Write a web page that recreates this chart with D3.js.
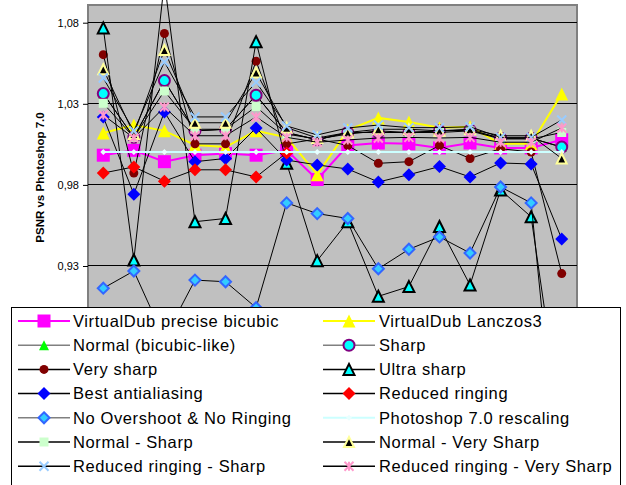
<!DOCTYPE html>
<html>
<head>
<meta charset="utf-8">
<script src="https://cdn.jsdelivr.net/npm/d3@7"></script>
<style>
body { margin: 0; background: #fff; }
svg { display: block; font-family: "Liberation Sans", Arial, sans-serif; }
</style>
</head>
<body>
<script>
/**
 * chart data (16 test images, PSNR relative to Photoshop 7.0)
 */
const categories = ["1", "2", "3", "4", "5", "6", "7", "8", "9", "10", "11", "12", "13", "14", "15", "16"];
const yTicks = [0.93, 0.98, 1.03, 1.08];

const vdBicubic = [0.998, 1.001, 0.994, 0.998, 0.999, 0.998, 1.001, 0.983, 1.004, 1.0055, 1.005, 1.0025, 1.0055, 1.0025, 1.0025, 1.0075];
const vdLanczos = [1.0117, 1.0166, 1.013, 1.0043, 1.003, 1.013, 1.009, 0.986, 1.0135, 1.021, 1.0185, 1.015, 1.0155, 1.005, 1.005, 1.0358];
const normal = [1.036, 1.009, 1.044, 1.013, 1.014, 1.035, 1.012, 1.0075, 1.012, 1.012, 1.012, 1.013, 1.0135, 1.0085, 1.0085, 1.003];
const sharp = [1.036, 1.009, 1.044, 1.013, 1.014, 1.035, 1.012, 1.0075, 1.012, 1.012, 1.012, 1.013, 1.0135, 1.0085, 1.0085, 1.003];
const verySharp = [1.06, 0.987, 1.073, 1.005, 1.005, 1.056, 1.005, 1.008, 1.004, 0.993, 0.994, 1.004, 0.996, 1.002, 1.0, 0.925];
const ultraSharp = [1.0765, 0.9334, 1.105, 0.957, 0.959, 1.068, 0.993, 0.933, 0.957, 0.911, 0.917, 0.954, 0.918, 0.9766, 0.96, 0.83];
const bestAntialiasing = [1.0216, 0.974, 1.0247, 0.994, 0.996, 1.0148, 0.995, 0.992, 0.9895, 0.9815, 0.986, 0.991, 0.9846, 0.9932, 0.9926, 0.9464];
const reducedRinging = [0.987, 0.9908, 0.982, 0.989, 0.989, 0.9846, 0.9994, null, null, null, null, null, null, null, null, null];
const noOvershoot = [0.916, 0.9266, 0.885, 0.921, 0.92, 0.904, 0.9686, 0.962, 0.959, 0.928, 0.94, 0.9476, 0.9377, 0.9784, 0.9686, 0.78];
const photoshop = [1, 1, 1, 1, 1, 1, 1, 1, 1, 1, 1, 1, 1, 1, 1, 1];
const normalSharp = [1.03, 1.009, 1.0376, 1.014, 1.014, 1.028, 1.011, 1.008, 1.011, 1.013, 1.012, 1.012, 1.013, 1.008, 1.008, 1.012];
const normalVerySharp = [1.051, 1.011, 1.0629, 1.018, 1.018, 1.049, 1.015, 1.0086, 1.012, 1.014, 1.014, 1.013, 1.014, 1.01, 1.01, 0.996];
const rrSharp = [1.0456, 1.013, 1.0555, 1.0216, 1.0216, 1.043, 1.016, 1.0105, 1.0148, 1.0166, 1.015, 1.015, 1.0155, 1.009, 1.009, 1.0197];
const rrVerySharp = [1.0228, 1.0086, 1.0277, 1.01, 1.01, 1.0216, 1.009, 1.006, 1.0074, 1.0086, 1.009, 1.0086, 1.009, 1.006, 1.006, 1.0148];

/**
 * series table: data + look (excel style markers)
 * line = colour in the plot, key = colour of the legend sample
 */
let series = [
    { name: "VirtualDub precise bicubic", values: vdBicubic, line: "#ff00ff", key: "#ff00ff", lw: 2, shape: "square", size: 13, fill: "#ff00ff", stroke: "none", sw: 0 },
    { name: "VirtualDub Lanczos3", values: vdLanczos, line: "#ffff00", key: "#ffff00", lw: 2, shape: "triangle", size: 13, fill: "#ffff00", stroke: "none", sw: 0 },
    { name: "Normal (bicubic-like)", values: normal, line: "#000", key: "#808080", lw: 1, shape: "triangle", size: 10, fill: "#00ff00", stroke: "none", sw: 0 },
    { name: "Sharp", values: sharp, line: "#000", key: "#808080", lw: 1, shape: "circle", size: 11, fill: "#00ffff", stroke: "#800080", sw: 2 },
    { name: "Very sharp", values: verySharp, line: "#000", key: "#000", lw: 1, shape: "circle", size: 9, fill: "#800000", stroke: "none", sw: 0 },
    { name: "Ultra sharp", values: ultraSharp, line: "#000", key: "#000", lw: 1, shape: "triangle", size: 11, fill: "#00ffff", stroke: "#000", sw: 2 },
    { name: "Best antialiasing", values: bestAntialiasing, line: "#000", key: "#000", lw: 1, shape: "diamond", size: 13, fill: "#0000ff", stroke: "none", sw: 0 },
    { name: "Reduced ringing", values: reducedRinging, line: "#000", key: "#000", lw: 1, shape: "diamond", size: 13, fill: "#ff0000", stroke: "none", sw: 0 },
    { name: "No Overshoot & No Ringing", values: noOvershoot, line: "#000", key: "#808080", lw: 1, shape: "diamond", size: 11, fill: "#33ccff", stroke: "#3366ff", sw: 2 },
    { name: "Photoshop 7.0 rescaling", values: photoshop, line: "#ccffff", key: "#ccffff", lw: 2, shape: "diamond", size: 6, fill: "#e8ffff", stroke: "none", sw: 0 },
    { name: "Normal - Sharp", values: normalSharp, line: "#000", key: "#000", lw: 1, shape: "square", size: 9, fill: "#ccffcc", stroke: "none", sw: 0 },
    { name: "Normal - Very Sharp", values: normalVerySharp, line: "#000", key: "#000", lw: 1, shape: "triangle", size: 10, fill: "#000", stroke: "#ffff99", sw: 2 },
    { name: "Reduced ringing - Sharp", values: rrSharp, line: "#000", key: "#000", lw: 1, shape: "x", size: 9, fill: "none", stroke: "#99ccff", sw: 2 },
    { name: "Reduced ringing - Very Sharp", values: rrVerySharp, line: "#000", key: "#000", lw: 1, shape: "star", size: 9, fill: "none", stroke: "#ff99cc", sw: 2 }
];

let width = 626, height = 485;
let plot = { left: 88, right: 577, top: 5 };

let x = d3.scalePoint().domain(categories).range([plot.left, plot.right]).padding(0.5);
let y = d3.scaleLinear().domain([0.83, 1.08]).range([427.7, 22.2]);

let svg = d3.select("body").append("svg")
    .attr("width", width)
    .attr("height", height);

// marker outlines
function markerPath(shape, s) {
    let h = s / 2;
    switch (shape) {
        case "square": return `M${-h},${-h}H${h}V${h}H${-h}Z`;
        case "diamond": return `M0,${-h}L${h},0L0,${h}L${-h},0Z`;
        case "triangle": return `M0,${-h}L${h},${h}L${-h},${h}Z`;
        case "circle": return `M${h},0A${h},${h} 0 1,1 ${-h},0A${h},${h} 0 1,1 ${h},0Z`;
        case "x": return `M${-h},${-h}L${h},${h}M${-h},${h}L${h},${-h}`;
        case "star": return `M${-h},${-h}L${h},${h}M${-h},${h}L${h},${-h}M0,${-h}L0,${h}`;
    }
}

/**
 * plot area, gridlines, y axis
 */
svg.append("rect")
    .attr("x", plot.left).attr("y", plot.top)
    .attr("width", plot.right - plot.left)
    .attr("height", y(0.83) - plot.top)
    .attr("fill", "#c0c0c0")
    .attr("stroke", "#808080")
    .attr("stroke-width", 2);

svg.append("g").selectAll("line")
    .data(yTicks)
    .join("line")
    .attr("x1", plot.left).attr("x2", plot.right)
    .attr("y1", d => Math.round(y(d)) + 0.5).attr("y2", d => Math.round(y(d)) + 0.5)
    .attr("stroke", "#000");

let yAxis = d3.axisLeft(y)
    .tickValues(yTicks)
    .tickSize(5)
    .tickPadding(4)
    .tickFormat(d => d3.format(".2f")(d).replace(".", ","));

let gy = svg.append("g")
    .attr("transform", "translate(" + plot.left + ",0.5)")
    .call(yAxis);
gy.select(".domain").remove();
gy.selectAll("text").attr("font-size", 11).attr("font-family", "Liberation Sans, Arial, sans-serif").attr("fill", "#000");
gy.selectAll("line").attr("stroke", "#000");

svg.append("text")
    .attr("transform", "translate(44,177.5) rotate(-90)")
    .attr("text-anchor", "middle")
    .attr("font-size", 11.5)
    .attr("font-weight", "bold")
    .text("PSNR vs Photoshop 7.0");

/**
 * series lines and markers, drawn in series order
 */
let line = d3.line()
    .defined(d => d != null)
    .x((d, i) => x(categories[i]))
    .y(d => y(d));

series.forEach(s => {
    let g = svg.append("g");
    g.append("path")
        .attr("d", line(s.values))
        .attr("fill", "none")
        .attr("stroke", s.line)
        .attr("stroke-width", s.lw);
    g.selectAll("path.m")
        .data(s.values.map((v, i) => ({ v: v, c: categories[i] })).filter(d => d.v != null))
        .join("path")
        .attr("class", "m")
        .attr("transform", d => "translate(" + x(d.c) + "," + y(d.v) + ")")
        .attr("d", markerPath(s.shape, s.size))
        .attr("fill", s.fill)
        .attr("stroke", s.stroke)
        .attr("stroke-width", s.sw);
});

/**
 * legend box, two columns, overlapping the bottom of the chart
 */
let legend = svg.append("g");
legend.append("rect")
    .attr("x", 11.5).attr("y", 307.5)
    .attr("width", 609).attr("height", 200)
    .attr("fill", "#fff")
    .attr("stroke", "#000");

let cols = [{ x0: 18, x1: 70, tx: 73 }, { x0: 323, x1: 375, tx: 379 }];

series.forEach((s, i) => {
    let c = cols[i % 2];
    let ry = 321 + Math.floor(i / 2) * 24.2;
    let item = legend.append("g");
    item.append("line")
        .attr("x1", c.x0).attr("x2", c.x1)
        .attr("y1", ry).attr("y2", ry)
        .attr("stroke", s.key)
        .attr("stroke-width", s.lw === 2 ? 2 : 1.5);
    item.append("path")
        .attr("transform", "translate(" + (c.x0 + c.x1) / 2 + "," + ry + ")")
        .attr("d", markerPath(s.shape, s.size))
        .attr("fill", s.fill)
        .attr("stroke", s.stroke)
        .attr("stroke-width", s.sw);
    item.append("text")
        .attr("x", c.tx).attr("y", ry)
        .attr("dy", "0.35em")
        .attr("font-size", 16.5)
        .attr("letter-spacing", 0.6)
        .attr("fill", "#000")
        .text(s.name);
});
</script>
</body>
</html>
